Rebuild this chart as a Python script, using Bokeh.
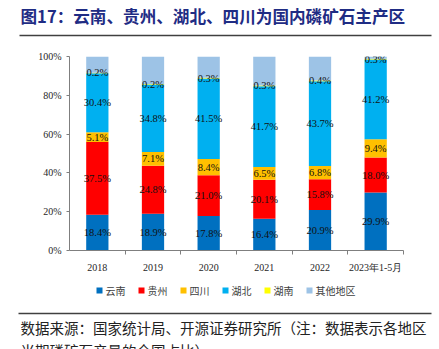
from bokeh.plotting import figure
from bokeh.layouts import column
from bokeh.models import Range1d, FixedTicker, ColumnDataSource, PrintfTickFormatter
from bokeh.core.properties import value
from bokeh.embed import file_html
from bokeh.resources import INLINE

categories = ["2018", "2019", "2020", "2021", "2022", "2023年1-5月"]
series_names = ["云南", "贵州", "四川", "湖北", "湖南", "其他地区"]
yunnan = [18.4, 18.9, 17.8, 16.4, 20.9, 29.9]
guizhou = [37.5, 24.8, 21.0, 20.1, 15.8, 18.0]
sichuan = [5.1, 7.1, 8.4, 6.5, 6.8, 9.4]
hubei = [30.4, 34.8, 41.5, 41.7, 43.7, 41.2]
hunan = [0.2, 0.2, 0.3, 0.3, 0.4, 0.3]
others = [8.4, 14.2, 11.0, 15.0, 12.4, 1.2]
y_ticks = [0, 20, 40, 60, 80, 100]

title_text = "图17：云南、贵州、湖北、四川为国内磷矿石主产区"
source_text1 = "数据来源：国家统计局、开源证券研究所（注：数据表示各地区"
source_text2 = "当期磷矿石产量的全国占比）"

colors = ["#0070C0", "#FF0000", "#FFC000", "#00B0F0", "#FFFF00", "#9DC3E6"]
keys = ["s0", "s1", "s2", "s3", "s4", "s5"]
all_series = [yunnan, guizhou, sichuan, hubei, hunan, others]

W = 439
TOP_H, MAIN_H = 45, 230
BOT_H = 349 - TOP_H - MAIN_H
L, R = 69, 36
MT = 56 - TOP_H
FH = 200
MB = MAIN_H - MT - FH


def blank(h):
    f = figure(width=W, height=h, x_range=Range1d(0, W), y_range=Range1d(h, 0),
               output_backend="svg", toolbar_location=None,
               x_axis_location=None, y_axis_location=None,
               min_border=0, min_border_left=0, min_border_right=0,
               min_border_top=0, min_border_bottom=0, frame_align=False)
    f.outline_line_color = None
    f.xgrid.grid_line_color = None
    f.ygrid.grid_line_color = None
    f.background_fill_color = "white"
    f.border_fill_color = "white"
    return f


# ---- title ----
top = blank(TOP_H)
top.text(x=[20], y=[15], text=[title_text], text_font=value("Noto Sans CJK SC"),
         text_font_style="bold", text_font_size="16.6px", text_color="#1F2C84",
         text_baseline="middle", text_align="left")
top.segment(x0=[19], y0=[35], x1=[431], y1=[35], line_color="#404040", line_width=1.5)

# ---- main chart ----
xs = [i + 0.5 for i in range(len(categories))]
data = {"x": xs}
for k, s in zip(keys, all_series):
    data[k] = s
source = ColumnDataSource(data)

p = figure(width=W, height=MAIN_H, x_range=Range1d(0, len(categories)), y_range=Range1d(0, 100),
           output_backend="svg", toolbar_location=None, frame_align=False,
           min_border_left=L, min_border_right=R, min_border_top=MT, min_border_bottom=MB)
p.outline_line_color = None
p.xgrid.grid_line_color = None
p.ygrid.grid_line_color = None
p.background_fill_color = "white"
p.border_fill_color = "white"

p.vbar_stack(keys, x="x", width=0.4, color=colors, line_color=None, source=source)

lx, ly, lt = [], [], []
for i in range(len(categories)):
    bottom = 0.0
    for s in all_series[:5]:
        v = s[i]
        lx.append(xs[i])
        ly.append(bottom + v / 2)
        lt.append(f"{v:.1f}%")
        bottom += v
p.text(x=lx, y=ly, text=lt, text_align="center", text_baseline="middle",
       text_font=value("Liberation Serif"), text_font_size="10.5px", text_color="#111111")

xa = p.xaxis[0]
xa.ticker = FixedTicker(ticks=xs, minor_ticks=list(range(1, len(categories) + 1)))
xa.major_label_overrides = {x: c for x, c in zip(xs, categories)}
xa.major_tick_line_color = None
xa.major_tick_out = 0
xa.major_tick_in = 0
xa.minor_tick_line_color = "#7f7f7f"
xa.minor_tick_out = 4
xa.minor_tick_in = 0
xa.axis_line_color = "#7f7f7f"
xa.major_label_text_font = "Liberation Serif"
xa.major_label_text_font_size = "10px"
xa.major_label_text_color = "#262626"
xa.major_label_standoff = 7

ya = p.yaxis[0]
ya.ticker = FixedTicker(ticks=y_ticks)
ya.formatter = PrintfTickFormatter(format="%d%%")
ya.axis_line_color = "#7f7f7f"
ya.major_tick_line_color = "#7f7f7f"
ya.major_tick_out = 3
ya.major_tick_in = 0
ya.minor_tick_line_color = None
ya.major_label_text_font = "Liberation Serif"
ya.major_label_text_font_size = "10px"
ya.major_label_text_color = "#262626"
ya.major_label_standoff = 5

# ---- legend + source ----
bot = blank(BOT_H)
off = TOP_H + MAIN_H
leg_y = 290 - off
sq_x = [96 + 42 * i for i in range(len(series_names))]
bot.rect(x=[x + 3 for x in sq_x], y=[leg_y] * len(sq_x), width=6, height=6,
         fill_color=colors, line_color=None)
bot.text(x=[x + 9 for x in sq_x], y=[leg_y] * len(sq_x), text=series_names,
         text_font=value("Noto Sans CJK SC"), text_font_size="10px", text_color="#404040",
         text_baseline="middle", text_align="left")
bot.segment(x0=[18], y0=[313 - off], x1=[431], y1=[313 - off], line_color="#404040", line_width=1.5)
bot.text(x=[20], y=[327 - off], text=[source_text1], text_font=value("Noto Sans CJK SC"),
         text_font_size="14.5px", text_color="#222222", text_baseline="middle", text_align="left")
bot.text(x=[20], y=[350 - off], text=[source_text2], text_font=value("Noto Sans CJK SC"),
         text_font_size="14.5px", text_color="#222222", text_baseline="middle", text_align="left")

layout = column(top, p, bot, spacing=0)
open("out.html", "w").write(file_html(layout, INLINE))
